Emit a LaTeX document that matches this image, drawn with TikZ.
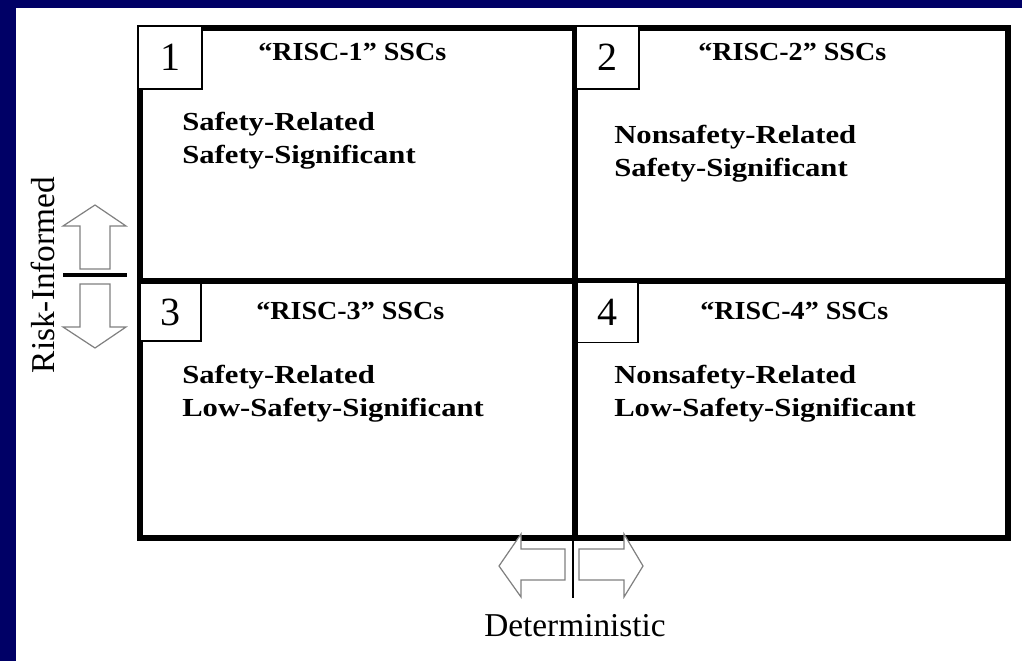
\documentclass[tikz,border=0pt]{standalone}
\usepackage{fontspec}
\setmainfont{Liberation Serif}
\newfontfamily\widebold[FakeStretch=1.18]{Liberation Serif}
\newfontfamily\headbold[FakeStretch=1.08]{Liberation Serif}
\definecolor{frameblue}{RGB}{0,0,102}
\definecolor{arrowgrey}{RGB}{128,128,128}
\tikzset{
  heavy/.style={line width=4.5pt, line cap=rect},
  numbox/.style={draw=black, line width=0.8pt, fill=white, inner sep=0pt,
    font=\fontsize{30}{30}\selectfont},
  title/.style={font=\headbold\fontsize{19.5}{20}\selectfont\bfseries, inner sep=0pt,
    anchor=base west},
  % anchored at the baseline of the last line
  body/.style={font=\widebold\fontsize{19.5}{24.75}\selectfont\bfseries, inner sep=0pt,
    align=left, anchor=base west},
  hollow/.style={draw=arrowgrey, line width=0.9pt, fill=white, line join=miter},
  axislabel/.style={font=\fontsize{25}{25}\selectfont, inner sep=0pt}
}
\begin{document}
\begin{tikzpicture}[x=0.75pt,y=-0.75pt]
  % page: navy margin at top and left, white sheet
  \fill[frameblue] (0,0) rectangle (1022,661);
  \fill[white] (16,8) rectangle (1022,661);
  \useasboundingbox (0,0) rectangle (1022,661);

  % the four-quadrant frame
  \draw[heavy] (140,28) rectangle (1008,538);
  \draw[heavy] (575,28) -- (575,538);
  \draw[heavy] (140,281) -- (1008,281);

  % quadrant numbers
  \node[numbox, minimum width=48pt, minimum height=47.25pt] (n1) at (170,57.5) {1};
  \node[numbox, minimum width=47.25pt, minimum height=47.25pt] (n2) at (607.5,57.5) {2};
  \node[numbox, minimum width=45.75pt, minimum height=43.5pt] (n3) at (170.5,312) {3};
  \node[numbox, minimum width=45.75pt, minimum height=45pt] (n4) at (607.5,312.5) {4};

  % quadrant titles
  \node[title] (t1) at (258,60) {“RISC-1” SSCs};
  \node[title] (t2) at (698,60) {“RISC-2” SSCs};
  \node[title] (t3) at (256,319) {“RISC-3” SSCs};
  \node[title] (t4) at (700,319) {“RISC-4” SSCs};

  % quadrant contents
  \node[body] (b1) at (182,163) {Safety-Related\\Safety-Significant};
  \node[body] (b2) at (614,176) {Nonsafety-Related\\Safety-Significant};
  \node[body] (b3) at (182,416) {Safety-Related\\Low-Safety-Significant};
  \node[body] (b4) at (614,416) {Nonsafety-Related\\Low-Safety-Significant};

  % vertical axis: risk-informed up/down arrows
  \draw[hollow] (95,205) -- (126,226) -- (110,226) -- (110,269) -- (80,269)
    -- (80,226) -- (63,226) -- cycle;
  \draw[hollow] (95,348) -- (126,327) -- (110,327) -- (110,284) -- (80,284)
    -- (80,327) -- (63,327) -- cycle;
  \draw[line width=2.3pt] (63,275) -- (127,275);
  \node[axislabel, rotate=90] (ri) at (43,275) {Risk-Informed};

  % horizontal axis: deterministic left/right arrows
  \coordinate (tick) at (573,598);
  \draw[line width=2.2pt] (573,538) -- (tick);
  \draw[hollow] (499,566) -- (521,534) -- (521,549) -- (565,549) -- (565,580)
    -- (521,580) -- (521,597) -- cycle;
  \draw[hollow] (643,566) -- (624,534) -- (624,549) -- (579,549) -- (579,580)
    -- (624,580) -- (624,597) -- cycle;
  \node[axislabel] (det) at (575,626) {Deterministic};
\end{tikzpicture}
\end{document}
